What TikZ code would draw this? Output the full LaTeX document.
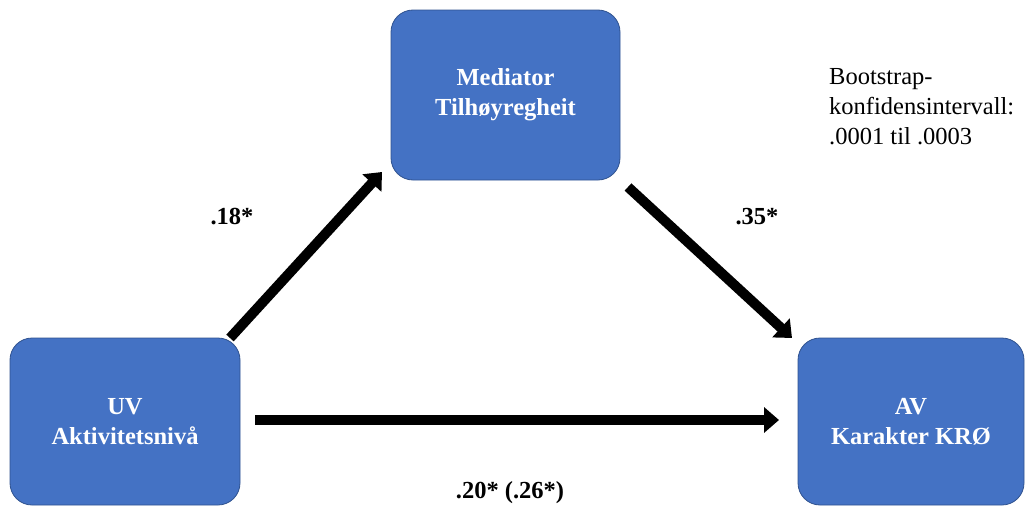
\documentclass[tikz,border=0pt]{standalone}
\usepackage{fontspec}
\setmainfont{Liberation Serif}
\usetikzlibrary{arrows.meta}
\definecolor{boxblue}{HTML}{4472C4}
\definecolor{boxedge}{HTML}{2F528F}
\tikzset{
  varbox/.style={draw=boxedge, line width=0.8pt, fill=boxblue, rounded corners=22pt,
    text=white, align=center, font=\fontsize{24.5}{30}\selectfont\bfseries, inner sep=0pt},
  patharrow/.style={line width=10pt, -{Triangle[width=25pt,length=15pt]}, black},
  coef/.style={font=\fontsize{24.5}{30}\selectfont\bfseries, inner sep=0pt},
  note/.style={font=\fontsize{24.5}{30}\selectfont, align=left, inner sep=0pt, anchor=north west}
}
\begin{document}
\begin{tikzpicture}[x=1pt,y=-1pt]
\useasboundingbox (0,0) rectangle (1026,506);
\node[varbox, minimum width=229pt, minimum height=170pt] (med) at (505.5,95) {Mediator\\Tilhøyregheit};
\node[varbox, minimum width=230pt, minimum height=167pt] (uv) at (125,421.5) {UV\\Aktivitetsnivå};
\node[varbox, minimum width=226pt, minimum height=167pt] (av) at (911,421.5) {AV\\Karakter KRØ};
\coordinate (a1s) at (230,338);
\coordinate (a1e) at (382,172);
\coordinate (a2s) at (628,187);
\coordinate (a2e) at (792,338);
\coordinate (a3s) at (255,420);
\coordinate (a3e) at (779,420);
\draw[patharrow] (a1s) -- (a1e);
\draw[patharrow] (a2s) -- (a2e);
\draw[patharrow] (a3s) -- (a3e);
\node[coef] (c1) at (232,217) {.18*};
\node[coef] (c2) at (757,217) {.35*};
\node[coef] (c3) at (510,493) {.20* (.26*)};
\node[note] (boot) at (829,68) {Bootstrap-\\konfidensintervall:\\.0001 til .0003};
\end{tikzpicture}
\end{document}
